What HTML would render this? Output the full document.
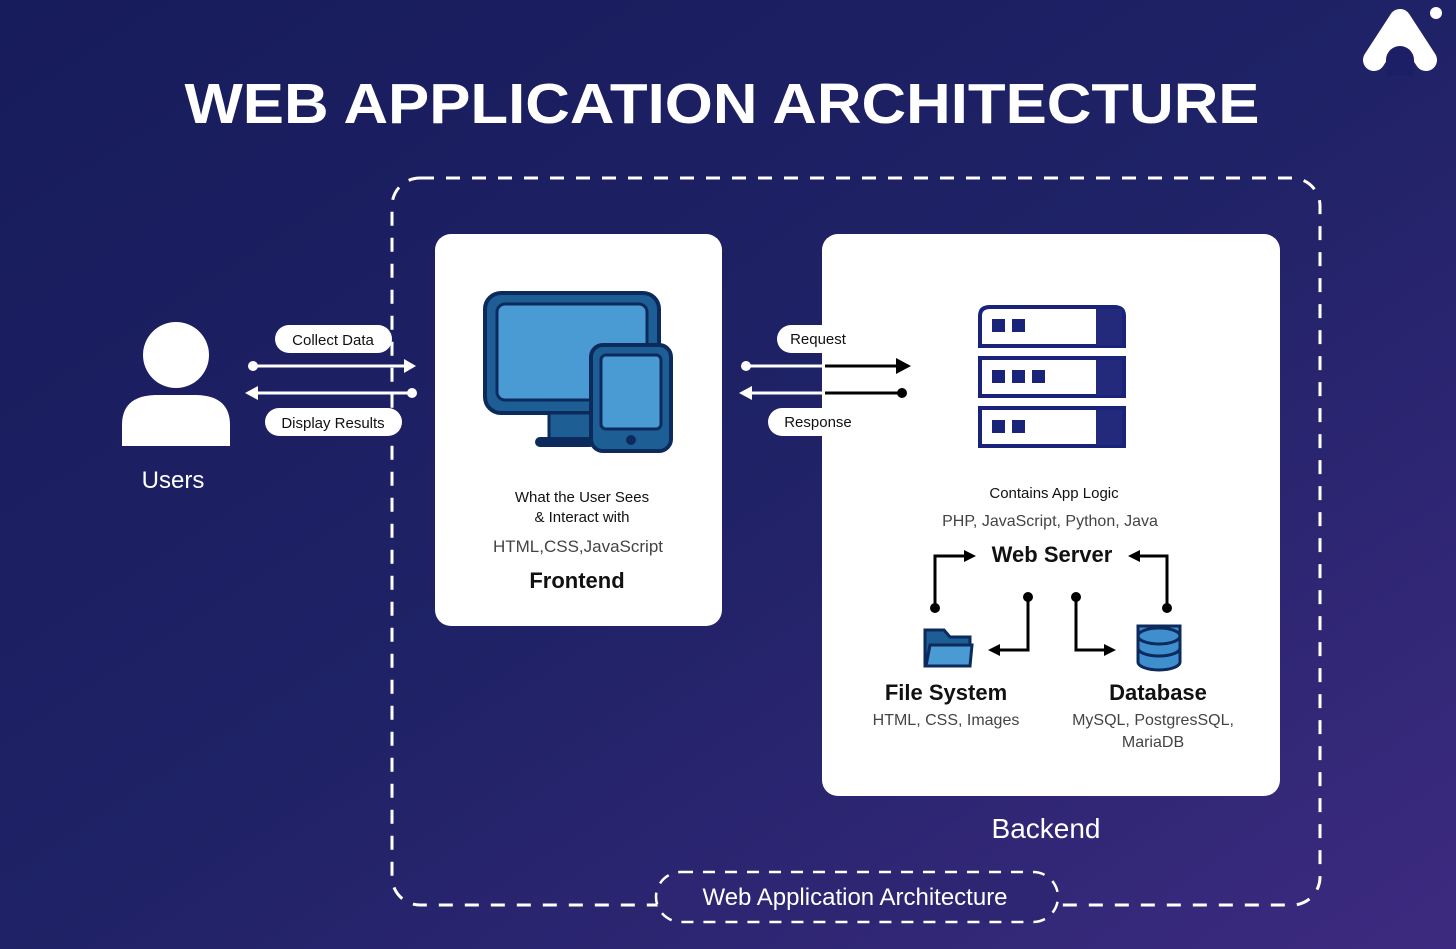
<!DOCTYPE html>
<html><head><meta charset="utf-8"><style>
html,body{margin:0;padding:0;width:1456px;height:949px;overflow:hidden;}
svg{display:block}
text{font-family:"Liberation Sans",sans-serif;}
</style></head><body>
<svg width="1456" height="949" viewBox="0 0 1456 949" xmlns="http://www.w3.org/2000/svg">
<defs>
<linearGradient id="bg" x1="0" y1="0" x2="1" y2="1">
<stop offset="0" stop-color="#171c5c"/>
<stop offset="0.5" stop-color="#1f2266"/>
<stop offset="1" stop-color="#3d2a80"/>
</linearGradient>
</defs>
<rect width="1456" height="949" fill="url(#bg)"/>

<!-- logo -->
<path d="M1374,60 L1400,20 L1426,60" fill="none" stroke="#fff" stroke-width="22" stroke-linejoin="round" stroke-linecap="round"/>
<path d="M1374,60 L1400,20 L1426,60 Z" fill="#fff"/>
<path d="M1386,76 L1386,60 A14,14 0 0 1 1414,60 L1414,76 Z" fill="#1d1f66"/>
<circle cx="1436" cy="13" r="6" fill="#fff"/>

<text x="722" y="123" text-anchor="middle" font-size="57" font-weight="bold" fill="#fff" textLength="1075" lengthAdjust="spacingAndGlyphs">WEB APPLICATION ARCHITECTURE</text>

<!-- dashed outer -->
<rect x="392" y="178" width="928" height="727" rx="28" fill="none" stroke="#fff" stroke-width="3" stroke-dasharray="14,12"/>

<!-- user -->
<circle cx="176" cy="355" r="33" fill="#fff"/>
<path d="M122,446 L122,425 Q122,396 155,395 L197,395 Q230,396 230,425 L230,446 Z" fill="#fff"/>
<text x="173" y="488" text-anchor="middle" font-size="24" fill="#fff">Users</text>

<!-- user arrows -->
<rect x="275" y="325" width="117" height="28" rx="14" fill="#fff"/>
<text x="333" y="345" text-anchor="middle" font-size="15" fill="#111">Collect Data</text>
<rect x="265" y="408" width="137" height="28" rx="14" fill="#fff"/>
<text x="333" y="428" text-anchor="middle" font-size="15" fill="#111">Display Results</text>
<line x1="253" y1="366" x2="406" y2="366" stroke="#fff" stroke-width="3"/>
<circle cx="253" cy="366" r="5" fill="#fff"/>
<path d="M404,359 L416,366 L404,373 Z" fill="#fff"/>
<line x1="256" y1="393" x2="412" y2="393" stroke="#fff" stroke-width="3"/>
<path d="M258,386 L245,393 L258,400 Z" fill="#fff"/>
<circle cx="412" cy="393" r="5" fill="#fff"/>

<!-- frontend -->
<rect x="435" y="234" width="287" height="392" rx="16" fill="#fff"/>
<rect x="485" y="293" width="174" height="120" rx="16" fill="#1d5f94" stroke="#0d2a5c" stroke-width="4"/>
<rect x="497" y="304" width="150" height="96" rx="8" fill="#4a9ad4" stroke="#0d2a5c" stroke-width="3"/>
<rect x="549" y="413" width="42" height="26" fill="#1d5f94" stroke="#0d2a5c" stroke-width="3"/>
<rect x="535" y="437" width="60" height="10" rx="5" fill="#0d2a5c"/>
<rect x="591" y="345" width="80" height="106" rx="12" fill="#1d5f94" stroke="#0d2a5c" stroke-width="4"/>
<rect x="601" y="355" width="60" height="74" rx="5" fill="#4a9ad4" stroke="#0d2a5c" stroke-width="3"/>
<circle cx="631" cy="440" r="5" fill="#0d2a5c"/>
<text x="582" y="502" text-anchor="middle" font-size="15" fill="#111">What the User Sees</text>
<text x="582" y="522" text-anchor="middle" font-size="15" fill="#111">&amp; Interact with</text>
<text x="578" y="552" text-anchor="middle" font-size="17" fill="#444">HTML,CSS,JavaScript</text>
<text x="577" y="588" text-anchor="middle" font-size="22" font-weight="bold" fill="#111">Frontend</text>

<!-- backend -->
<rect x="822" y="234" width="458" height="562" rx="16" fill="#fff"/>
<rect x="777" y="325" width="90" height="28" rx="14" fill="#fff"/>
<text x="818" y="344" text-anchor="middle" font-size="15" fill="#111">Request</text>
<rect x="768" y="408" width="99" height="28" rx="14" fill="#fff"/>
<text x="818" y="427" text-anchor="middle" font-size="15" fill="#111">Response</text>
<line x1="746" y1="366" x2="822" y2="366" stroke="#fff" stroke-width="3"/>
<circle cx="746" cy="366" r="5" fill="#fff"/>
<line x1="752" y1="393" x2="822" y2="393" stroke="#fff" stroke-width="3"/>
<path d="M752,386 L739,393 L752,400 Z" fill="#fff"/>
<line x1="825" y1="366" x2="898" y2="366" stroke="#000" stroke-width="3"/>
<path d="M896,358 L911,366 L896,374 Z" fill="#000"/>
<line x1="825" y1="393" x2="902" y2="393" stroke="#000" stroke-width="3"/>
<circle cx="902" cy="393" r="5" fill="#000"/>

<!-- server -->
<g stroke="#1a237a" stroke-width="4">
<path d="M980,346 L980,316 Q980,307 990,307 L1114,307 Q1124,307 1124,316 L1124,346 Z" fill="#fff"/>
<rect x="980" y="358" width="144" height="38" fill="#fff"/>
<rect x="980" y="408" width="144" height="38" fill="#fff"/>
</g>
<rect x="1096" y="309" width="26" height="36" fill="#232a7c"/>
<rect x="1096" y="360" width="26" height="35" fill="#232a7c"/>
<rect x="1096" y="410" width="26" height="35" fill="#232a7c"/>
<g fill="#1a237a">
<rect x="992" y="319" width="13" height="13"/><rect x="1012" y="319" width="13" height="13"/>
<rect x="992" y="370" width="13" height="13"/><rect x="1012" y="370" width="13" height="13"/><rect x="1032" y="370" width="13" height="13"/>
<rect x="992" y="420" width="13" height="13"/><rect x="1012" y="420" width="13" height="13"/>
</g>
<text x="1054" y="498" text-anchor="middle" font-size="15" fill="#111">Contains App Logic</text>
<text x="1050" y="526" text-anchor="middle" font-size="16" fill="#444">PHP, JavaScript, Python, Java</text>
<text x="1052" y="562" text-anchor="middle" font-size="22" font-weight="bold" fill="#111">Web Server</text>

<g fill="none" stroke="#000" stroke-width="3">
<path d="M935,608 L935,556 L966,556"/>
<path d="M1167,608 L1167,556 L1138,556"/>
<path d="M1028,597 L1028,650 L998,650"/>
<path d="M1076,597 L1076,650 L1106,650"/>
</g>
<g fill="#000">
<circle cx="935" cy="608" r="5"/><circle cx="1167" cy="608" r="5"/>
<circle cx="1028" cy="597" r="5"/><circle cx="1076" cy="597" r="5"/>
<path d="M964,550 L976,556 L964,562 Z"/>
<path d="M1140,550 L1128,556 L1140,562 Z"/>
<path d="M1000,644 L988,650 L1000,656 Z"/>
<path d="M1104,644 L1116,650 L1104,656 Z"/>
</g>

<path d="M925,666 L925,630 L944,630 L950,637 L970,637 L970,666 Z" fill="#1d5f94" stroke="#0d2a5c" stroke-width="3"/>
<path d="M926,666 L930,645 L972,645 L970,666 Z" fill="#4a9ad4" stroke="#0d2a5c" stroke-width="3"/>
<g stroke="#0d2a5c" stroke-width="3" fill="#3f8fcf">
<path d="M1138,640 L1138,662 A21,8 0 0 0 1180,662 L1180,640 Z"/>
<path d="M1138,626 L1138,648 A21,8 0 0 0 1180,648 L1180,626 Z"/>
<path d="M1138,636 L1138,648 A21,8 0 0 0 1180,648 L1180,636"/>
<ellipse cx="1159" cy="636" rx="21" ry="8"/>
</g>

<text x="946" y="700" text-anchor="middle" font-size="22" font-weight="bold" fill="#111">File System</text>
<text x="946" y="725" text-anchor="middle" font-size="16" fill="#444">HTML, CSS, Images</text>
<text x="1158" y="700" text-anchor="middle" font-size="22" font-weight="bold" fill="#111">Database</text>
<text x="1153" y="725" text-anchor="middle" font-size="16" fill="#444">MySQL, PostgresSQL,</text>
<text x="1153" y="747" text-anchor="middle" font-size="16" fill="#444">MariaDB</text>

<text x="1046" y="838" text-anchor="middle" font-size="28" fill="#fff">Backend</text>

<rect x="656" y="872" width="402" height="50" rx="25" fill="#2e2673" stroke="#fff" stroke-width="2.5" stroke-dasharray="12,10"/>
<text x="855" y="905" text-anchor="middle" font-size="24" fill="#fff">Web Application Architecture</text>
</svg>
</body></html>
